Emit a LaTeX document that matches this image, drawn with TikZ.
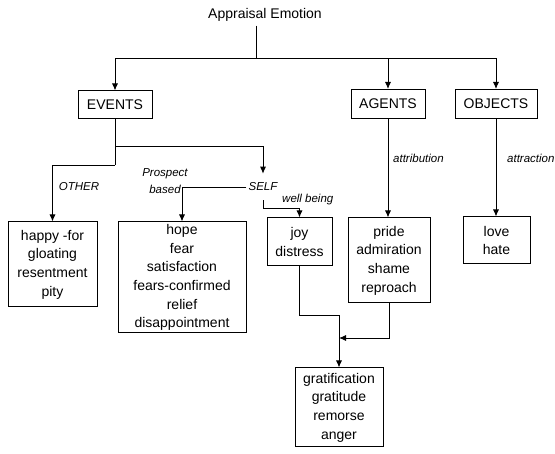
\documentclass[tikz,border=0pt]{standalone}
\usepackage{fontspec}
\setmainfont{Liberation Sans}
\usetikzlibrary{arrows.meta}
\begin{document}
\begin{tikzpicture}[x=1pt,y=-1pt,
  every node/.style={inner sep=0pt},
  box/.style={draw, line width=1pt, align=center, font=\fontsize{14}{18.6}\selectfont},
  lab/.style={font=\fontsize{11.5}{13}\selectfont\itshape},
  arr/.style={line width=0.9pt, -{Latex[length=7pt,width=6pt]}},
  ln/.style={line width=0.9pt}]
\useasboundingbox (0,0) rectangle (555,454);
% nodes
\node[font=\fontsize{14}{16}\selectfont, inner sep=4pt] (title) at (265,15) {Appraisal Emotion};
\node[box, minimum width=74pt, minimum height=28pt] (events) at (115,105) {EVENTS};
\node[box, minimum width=74pt, minimum height=29pt] (agents) at (388,104) {AGENTS};
\node[box, minimum width=82pt, minimum height=29pt] (objects) at (496,104) {OBJECTS};
\node[box, minimum width=89pt, minimum height=85pt] (happy) at (52.5,264.5) {happy -for\\gloating\\resentment\\pity};
\node[box, minimum width=128pt, minimum height=111pt] (hope) at (182,277.5) {hope\\fear\\satisfaction\\fears-confirmed\\relief\\disappointment};
\node[box, minimum width=65pt, minimum height=48pt] (joy) at (299.5,242) {joy\\distress};
\node[box, minimum width=82pt, minimum height=85pt] (pride) at (389,260.5) {pride\\admiration\\shame\\reproach};
\node[box, minimum width=67pt, minimum height=47pt] (love) at (496.5,240.5) {love\\hate};
\node[box, minimum width=88pt, minimum height=79pt] (grat) at (339,407.5) {gratification\\gratitude\\remorse\\anger};
% labels
\node[lab, inner xsep=2pt, inner ysep=9pt] (self) at (263,187) {SELF};
\node[lab] (other) at (79,187) {OTHER};
\node[lab, align=center, font=\fontsize{11.5}{17}\selectfont\itshape] (prospect) at (165,181) {Prospect\\based};
\node[lab, anchor=west] (wb) at (282,200) {well being};
\node[lab, anchor=west] (attr) at (393,158) {attribution};
\node[lab, anchor=west] (attc) at (507,158) {attraction};
% connectors
\coordinate (top) at (256,58);
\draw[ln] (title.south -| top) -- (top);
\draw[arr] (top) -| (events.north);
\draw[arr] (top) -| (agents.north);
\draw[arr] (top) -| (objects.north);
\coordinate (e1) at (115,146);
\coordinate (e2) at (115,165);
\draw[ln] (events.south) -- (e2);
\draw[arr] (e1) -| (self.north);
\draw[arr] (e2) -| (happy.north);
\draw[arr] (self.west) -| (hope.north);
\coordinate (w1) at (263,208);
\draw[arr] (self.south) -- (w1) -| (joy.north);
\draw[arr] (agents.south) -- (agents.south |- pride.north);
\draw[arr] (objects.south) -- (objects.south |- love.north);
\coordinate (m1) at (339,315);
\draw[arr] (joy.south) |- (m1) -- (grat.north);
\coordinate (m2) at (339,338);
\draw[arr] (pride.south) |- (m2);
\end{tikzpicture}
\end{document}
